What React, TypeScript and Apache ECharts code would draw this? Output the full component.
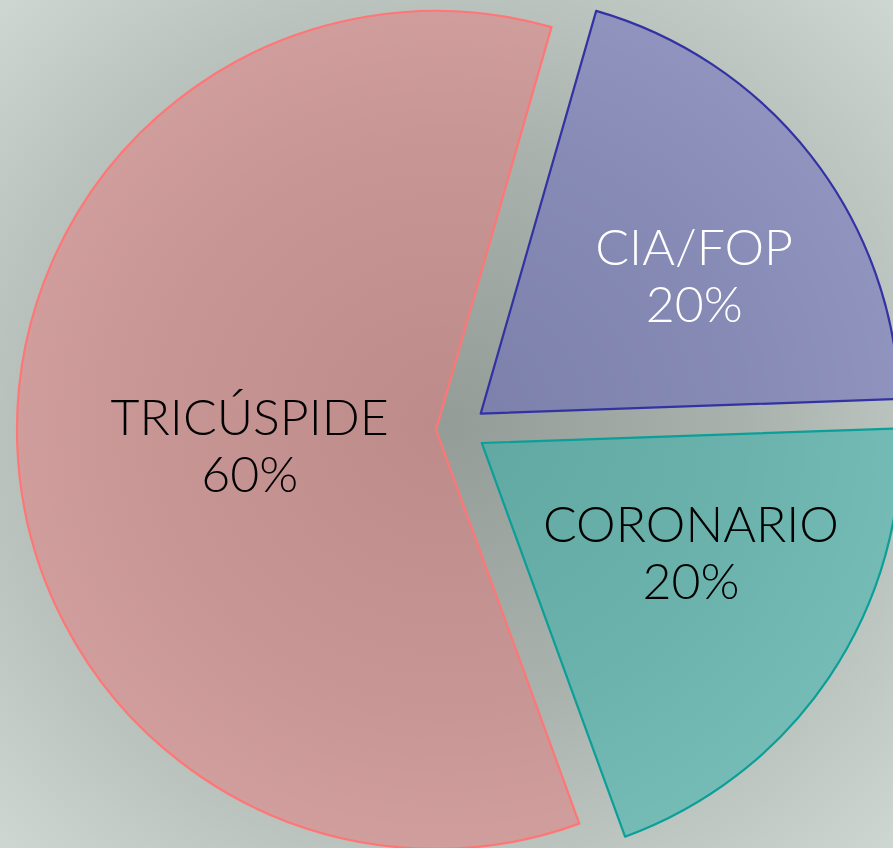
import React, { useEffect, useRef } from "react";
import * as echarts from "echarts";

const categories = ["TRICÚSPIDE", "CIA/FOP", "CORONARIO"];
const values = [60, 20, 20];
const fillColors = ["rgba(232,122,125,0.5)", "rgba(100,100,190,0.5)", "rgba(45,178,172,0.5)"];
const borderColors = ["#ff7676", "#3232a2", "#0a9f98"];
const labelColors = ["#000000", "#ffffff", "#000000"];
const labelShift = [
  [26, 7],
  [46, -8],
  [33, -10],
];

export default function App() {
  const ref = useRef<HTMLDivElement>(null);
  useEffect(() => {
    document.body.style.margin = "0";
    const chart = echarts.init(ref.current!, null, { renderer: "svg" });
    chart.setOption({
      animation: false,
      backgroundColor: {
        type: "radial",
        x: 0.5,
        y: 0.5,
        r: 0.75,
        colorStops: [
          { offset: 0, color: "#939c97" },
          { offset: 0.45, color: "#a9b2ad" },
          { offset: 1, color: "#d3dbd6" },
        ],
      },
      series: [
        {
          type: "pie",
          center: [461, 429],
          radius: [0, 419],
          startAngle: 290,
          clockwise: true,
          selectedMode: "multiple",
          selectedOffset: 25,
          emphasis: { disabled: true },
          labelLine: { show: false },
          label: {
            show: true,
            position: "inside",
            fontFamily: "Lato",
            fontWeight: 300,
            fontSize: 50,
            lineHeight: 57,
            align: "center",
            formatter: (p: any) => `${p.name}\n${Math.round(p.percent)}%`,
          },
          labelLayout: (p: any) => ({
            dx: labelShift[p.dataIndex][0],
            dy: labelShift[p.dataIndex][1],
          }),
          data: categories.map((name, i) => ({
            name,
            value: values[i],
            selected: true,
            itemStyle: {
              color: fillColors[i],
              borderColor: borderColors[i],
              borderWidth: 2.2,
            },
            label: { color: labelColors[i] },
          })),
        },
      ],
    });
    return () => chart.dispose();
  }, []);
  return <div ref={ref} style={{ width: 893, height: 848 }} />;
}
